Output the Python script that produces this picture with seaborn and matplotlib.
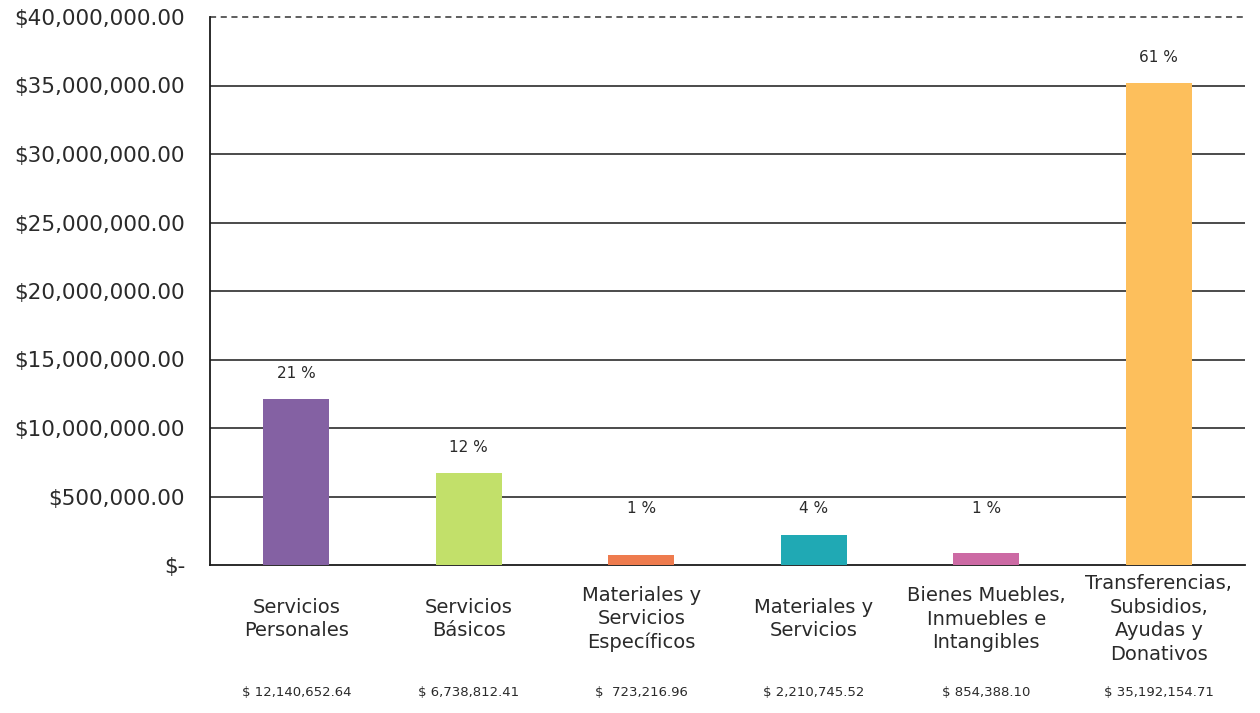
import matplotlib
matplotlib.use("Agg")
import matplotlib.pyplot as plt
import seaborn as sns
import pandas as pd

categories = [
    "Servicios\nPersonales",
    "Servicios\nBásicos",
    "Materiales y\nServicios\nEspecíficos",
    "Materiales y\nServicios",
    "Bienes Muebles,\nInmuebles e\nIntangibles",
    "Transferencias,\nSubsidios,\nAyudas y\nDonativos",
]
values = [12140652.64, 6738812.41, 723216.96, 2210745.52, 854388.10, 35192154.71]
percent_labels = ["21 %", "12 %", "1 %", "4 %", "1 %", "61 %"]
amount_labels = ["$ 12,140,652.64", "$ 6,738,812.41", "$  723,216.96",
                 "$ 2,210,745.52", "$ 854,388.10", "$ 35,192,154.71"]
ytick_values = [0, 5e6, 10e6, 15e6, 20e6, 25e6, 30e6, 35e6, 40e6]
ytick_labels = ["$-", "$500,000.00", "$10,000,000.00", "$15,000,000.00",
                "$20,000,000.00", "$25,000,000.00", "$30,000,000.00",
                "$35,000,000.00", "$40,000,000.00"]
colors = ["#8461A3", "#C2E06A", "#EE7B4E", "#20A9B4", "#CC6AA4", "#FDBF5C"]

sns.set_style("white")
plt.rcParams["font.family"] = ["DejaVu Sans"]
TXT = "#2a2a2a"

fig = plt.figure(figsize=(12.6, 7.13), dpi=100)
ax = fig.add_axes([210/1260, 1 - 565/713, (1245 - 210)/1260, (565 - 17)/713])

df = pd.DataFrame({"cat": categories, "val": values})
sns.barplot(data=df, x="cat", y="val", hue="cat", palette=colors, legend=False,
            width=0.38, ax=ax, zorder=3, saturation=1, linewidth=0)

ax.set_xlim(-0.5, 5.5)
ax.set_ylim(0, 40e6)
ax.set_yticks(ytick_values)
ax.set_yticklabels(ytick_labels, fontsize=15.5, color=TXT)
ax.tick_params(axis="y", length=0, pad=18)
ax.tick_params(axis="x", length=0, pad=39)
ax.set_xticks(range(len(categories)))
ax.set_xticklabels(categories, fontsize=14, color=TXT, linespacing=1.3,
                   va="center", ha="center")
ax.set_xlabel("")
ax.set_ylabel("")

for yv in ytick_values[1:-1]:
    ax.axhline(yv, color="#1a1a1a", lw=1.1, zorder=1)
ax.axhline(ytick_values[-1], color="#333333", lw=1.1, ls=(0, (4, 3)), zorder=1,
           clip_on=False)

for s in ["top", "right"]:
    ax.spines[s].set_visible(False)
for s in ["left", "bottom"]:
    ax.spines[s].set_color("#1a1a1a")
    ax.spines[s].set_linewidth(1.3)

for i, (v, p) in enumerate(zip(values, percent_labels)):
    ax.annotate(p, xy=(i, max(v, 2.3e6)), xytext=(0, 18), textcoords="offset points",
                ha="center", va="center", fontsize=11, color=TXT)

for i, a in enumerate(amount_labels):
    ax.text(i, -0.232, a, transform=ax.get_xaxis_transform(), ha="center",
            va="center", fontsize=9.5, color=TXT)

fig.savefig("out.png", dpi=100)
